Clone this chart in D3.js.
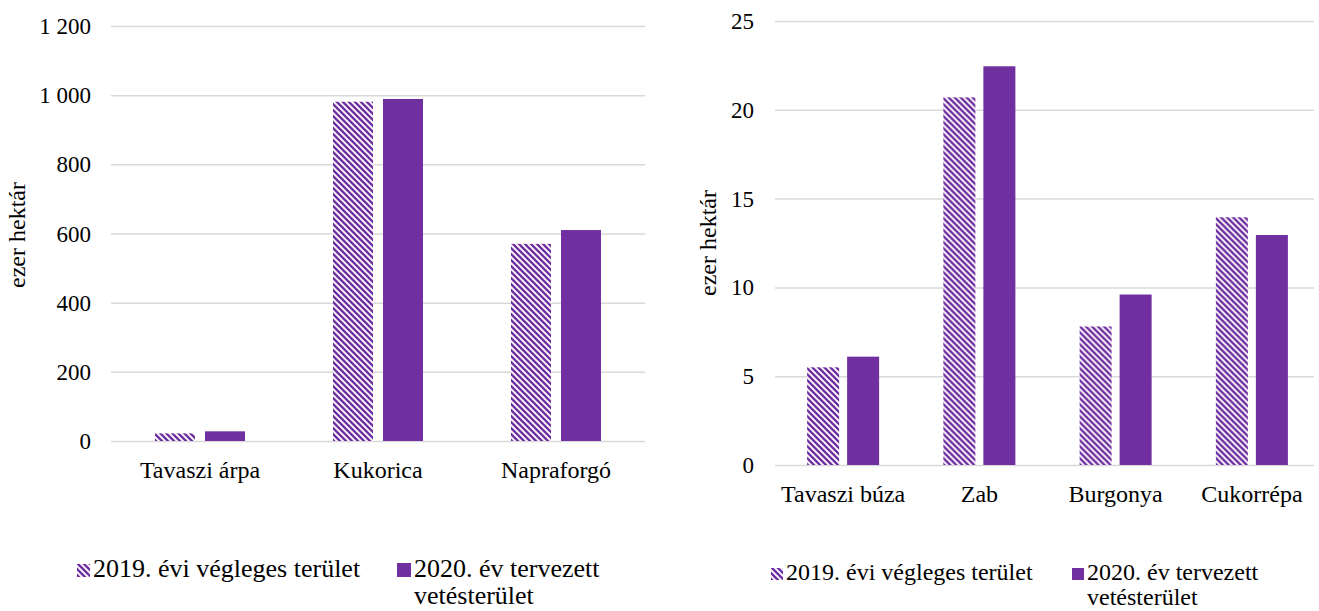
<!DOCTYPE html>
<html>
<head>
<meta charset="utf-8">
<script src="https://cdn.jsdelivr.net/npm/d3@7"></script>
<style>
  body { margin: 0; background: #fff; }
  svg text { font-family: "Liberation Serif", "Times New Roman", serif; fill: #000; }
</style>
</head>
<body>
<div class="chart-container"></div>
<script>
// adatok
const seriesNames = ['2019. évi végleges terület', '2020. év tervezett vetésterület'];

const leftCategories = ['Tavaszi árpa', 'Kukorica', 'Napraforgó'];
const left2019 = [22, 981, 570];
const left2020 = [28, 989, 610];
const leftTicks = [0, 200, 400, 600, 800, 1000, 1200];

const rightCategories = ['Tavaszi búza', 'Zab', 'Burgonya', 'Cukorrépa'];
const right2019 = [5.5, 20.7, 7.8, 13.95];
const right2020 = [6.1, 22.45, 9.6, 12.95];
const rightTicks = [0, 5, 10, 15, 20, 25];

const purple = '#7030a0';
const gridColor = '#d9d9d9';

const svg = d3.select('.chart-container').append('svg')
  .attr('width', 1319).attr('height', 611);

// sraffozott minta
const defs = svg.append('defs');
const pat = defs.append('pattern')
  .attr('id', 'hatch')
  .attr('patternUnits', 'userSpaceOnUse')
  .attr('width', 6).attr('height', 6);
pat.append('rect').attr('width', 6).attr('height', 6).attr('fill', '#fff');
pat.append('path')
  .attr('d', 'M-3,3 L3,9 M0,0 L6,6 M3,-3 L9,3')
  .attr('stroke', purple).attr('stroke-width', 2.4);

const fillFor = i => (i === 0 ? 'url(#hatch)' : purple);

const formatHu = d => d3.format(',')(d).replace(/,/g, ' ');

function drawChart(opt) {
  const g = svg.append('g');
  const yScale = d3.scaleLinear().domain([0, opt.yMax]).range([opt.bottom, opt.top]);
  const x0 = d3.scaleBand().domain(opt.categories).range([opt.left, opt.right]);

  // rácsvonalak
  const yAxis = d3.axisLeft(yScale)
    .tickValues(opt.ticks)
    .tickFormat(formatHu)
    .tickSize(-(opt.gridRight - opt.left))
    .tickPadding(opt.labelGap);
  const yAxisDraw = g.append('g')
    .attr('class', 'y axis')
    .attr('transform', `translate(${opt.left},0)`)
    .call(yAxis);
  yAxisDraw.select('.domain').remove();
  yAxisDraw.selectAll('line').attr('stroke', gridColor).attr('stroke-width', 1.5);
  yAxisDraw.selectAll('text')
    .attr('font-size', opt.fontSize)
    .attr('dy', '0.33em');

  // kategória feliratok
  const xAxis = d3.axisBottom(x0).tickSize(0).tickPadding(opt.catPad);
  const xAxisDraw = g.append('g')
    .attr('class', 'x axis')
    .attr('transform', `translate(0,${opt.bottom})`)
    .call(xAxis);
  xAxisDraw.select('.domain').remove();
  xAxisDraw.selectAll('text').attr('font-size', opt.catFont);

  // oszlopok
  const rows = opt.categories.map((c, i) => ({ cat: c, vals: [opt.s1[i], opt.s2[i]] }));
  const half = opt.barW + opt.gap / 2;
  const x1 = d3.scaleBand().domain([0, 1])
    .range([x0.bandwidth() / 2 - half, x0.bandwidth() / 2 + half])
    .paddingInner(opt.gap / (opt.barW + opt.gap));

  g.selectAll('.grp')
    .data(rows)
    .enter()
    .append('g')
    .attr('transform', d => `translate(${x0(d.cat)},0)`)
    .selectAll('rect')
    .data(d => d.vals)
    .enter()
    .append('rect')
    .attr('x', (d, i) => x1(i))
    .attr('y', d => yScale(d))
    .attr('width', x1.bandwidth())
    .attr('height', d => yScale(0) - yScale(d))
    .attr('fill', (d, i) => fillFor(i));

  // tengelycím
  g.append('text')
    .attr('transform', `translate(${opt.titleX},${opt.titleY}) rotate(-90)`)
    .attr('text-anchor', 'middle')
    .attr('font-size', opt.catFont)
    .text('ezer hektár');

  // jelmagyarázat
  const leg = g.append('g').attr('class', 'legend');
  opt.legend.forEach((L, i) => {
    leg.append('rect')
      .attr('x', L.x).attr('y', opt.legY - L.sw)
      .attr('width', L.sw).attr('height', L.sw)
      .attr('fill', fillFor(i));
    const t = leg.append('text')
      .attr('x', L.x + L.sw + 3)
      .attr('y', opt.legY)
      .attr('font-size', opt.legFont);
    const lines = i === 0 ? [seriesNames[0]] : ['2020. év tervezett', 'vetésterület'];
    lines.forEach((s, k) => {
      t.append('tspan')
        .attr('x', L.x + L.sw + 3)
        .attr('dy', k === 0 ? 0 : opt.legLine)
        .text(s);
    });
  });
}

drawChart({
  categories: leftCategories, s1: left2019, s2: left2020, ticks: leftTicks,
  yMax: 1200, top: 26, bottom: 441, left: 111, right: 645, gridRight: 645,
  barW: 40, gap: 10, fontSize: 23, catFont: 24, labelGap: 20, catPad: 20,
  titleX: 25, titleY: 235,
  legY: 577, legFont: 26, legLine: 27,
  legend: [{ x: 77, sw: 13 }, { x: 397, sw: 14 }]
});

drawChart({
  categories: rightCategories, s1: right2019, s2: right2020, ticks: rightTicks,
  yMax: 25, top: 21, bottom: 465, left: 775, right: 1320, gridRight: 1314,
  barW: 32, gap: 8, fontSize: 23, catFont: 24, labelGap: 21, catPad: 20,
  titleX: 716, titleY: 243,
  legY: 580, legFont: 24, legLine: 25,
  legend: [{ x: 771, sw: 12 }, { x: 1072, sw: 12 }]
});
</script>
</body>
</html>
